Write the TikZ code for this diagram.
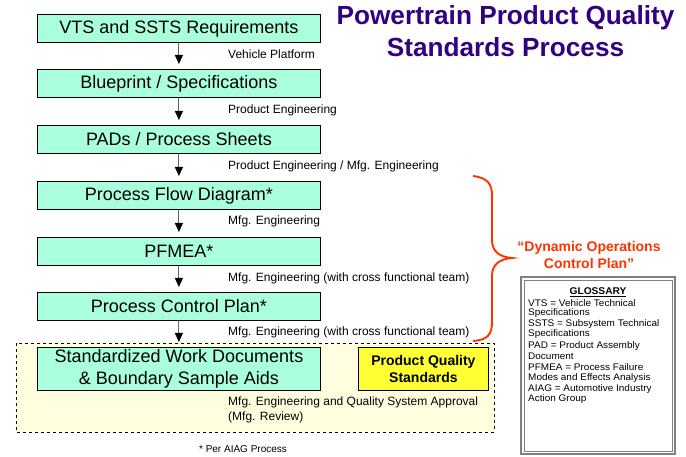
\documentclass[tikz,border=0pt]{standalone}
\usepackage{fontspec}
\setmainfont{Liberation Sans}
\newfontfamily\glosfont[FakeStretch=1.04]{Liberation Sans}
\usetikzlibrary{arrows.meta}
\definecolor{boxfill}{RGB}{170,255,221}
\definecolor{titlecol}{RGB}{51,0,128}
\definecolor{bracered}{RGB}{255,51,0}
\definecolor{pqsyellow}{RGB}{255,255,51}
\definecolor{zonefill}{RGB}{255,255,224}
\tikzset{
  stepbox/.style={draw=black, fill=boxfill, line width=0.8pt, minimum width=283pt, minimum height=28pt, inner sep=0pt, font=\fontsize{18}{21}\selectfont, anchor=north west},
  flowarrow/.style={draw=gray!80!black, line width=0.9pt, -{Triangle[width=8pt,length=9pt,color=black]}},
  lbl/.style={anchor=west, inner sep=0pt, font=\fontsize{12}{15}\selectfont},
  glos/.style={anchor=west, inner sep=0pt, align=left, font=\glosfont\fontsize{9.6}{10.4}\selectfont},
}
\begin{document}
\begin{tikzpicture}[x=1pt, y=-1pt]
\useasboundingbox (0,0) rectangle (686,457);
% dashed zone
\draw[dashed, fill=zonefill, line width=0.6pt] (16,343) rectangle (494,432);
% title
\node[font=\fontsize{26.2}{32}\selectfont\bfseries, text=titlecol, align=center] (title) at (505.5,31) {Powertrain Product Quality\\Standards Process};
% step boxes
\node[stepbox] (b1) at (37,14) {VTS and SSTS Requirements};
\node[stepbox] (b2) at (37,69) {Blueprint / Specifications};
\node[stepbox] (b3) at (37,125) {PADs / Process Sheets};
\node[stepbox] (b4) at (37,181) {Process Flow Diagram*};
\node[stepbox] (b5) at (37,237) {PFMEA*};
\node[stepbox] (b6) at (37,292) {Process Control Plan*};
\node[stepbox, minimum height=43pt, align=center, font=\fontsize{18}{22}\selectfont] (b7) at (37,347) {Standardized Work Documents\\\& Boundary Sample Aids};
% arrows
\draw[flowarrow] (b1.south) -- ([yshift=5pt]b2.north);
\draw[flowarrow] (b2.south) -- ([yshift=5pt]b3.north);
\draw[flowarrow] (b3.south) -- ([yshift=5pt]b4.north);
\draw[flowarrow] (b4.south) -- ([yshift=5pt]b5.north);
\draw[flowarrow] (b5.south) -- ([yshift=5pt]b6.north);
\draw[flowarrow] (b6.south) -- ([yshift=5pt]b7.north);
% labels
\node[lbl] (l1) at (228,54) {Vehicle Platform};
\node[lbl] (l2) at (228,110) {Product Engineering};
\node[lbl] (l3) at (228,166) {Product Engineering / Mfg. Engineering};
\node[lbl] (l4) at (228,221) {Mfg. Engineering};
\node[lbl] (l5) at (228,278) {Mfg. Engineering (with cross functional team)};
\node[lbl] (l6) at (228,332) {Mfg. Engineering (with cross functional team)};
\node[lbl, anchor=north west, align=left] (l7) at (228,397) {Mfg. Engineering and Quality System Approval\\(Mfg. Review)};
% PQS box
\node[draw=black, fill=pqsyellow, line width=0.8pt, minimum width=130pt, minimum height=43pt, anchor=north west, align=center, inner sep=0pt, font=\fontsize{14}{16.5}\selectfont\bfseries] (pqs) at (358,347) {Product Quality\\Standards};
% footnote
\node[font=\fontsize{10}{12}\selectfont, inner sep=0pt] (foot) at (243,449) {* Per AIAG Process};
% brace
\draw[bracered, line width=1.9pt] (473,176) .. controls (488,178) and (492,184) .. (492,196)
  -- (492,240) .. controls (492,252) and (500,257) .. (512,258)
  .. controls (500,259) and (492,264) .. (492,276)
  -- (492,322) .. controls (492,334) and (488,340) .. (473,341);
\node[text=bracered, font=\fontsize{14}{16.5}\selectfont\bfseries, align=center] (dyn) at (589,255) {“Dynamic Operations\\Control Plan”};
% glossary
\draw[draw=gray, line width=1.2pt] (521,277) rectangle (675,454);
\draw[draw=gray, line width=0.6pt] (524,280) rectangle (672,451);
\node[font=\glosfont\fontsize{9.8}{11}\selectfont\bfseries, inner sep=0pt] (gh) at (598,292) {\underline{GLOSSARY}};
\node[glos] (g1a) at (528,303) {VTS = Vehicle Technical};
\node[glos] (g1b) at (528,313.5) {Specifications};
\node[glos] (g2a) at (528,324) {SSTS = Subsystem Technical};
\node[glos] (g2b) at (528,334.5) {Specifications};
\node[glos] (g3a) at (528,346) {PAD = Product Assembly};
\node[glos] (g3b) at (528,356.5) {Document};
\node[glos] (g4a) at (528,367.5) {PFMEA = Process Failure};
\node[glos] (g4b) at (528,378) {Modes and Effects Analysis};
\node[glos] (g5a) at (528,389) {AIAG = Automotive Industry};
\node[glos] (g5b) at (528,399.5) {Action Group};
\end{tikzpicture}
\end{document}
